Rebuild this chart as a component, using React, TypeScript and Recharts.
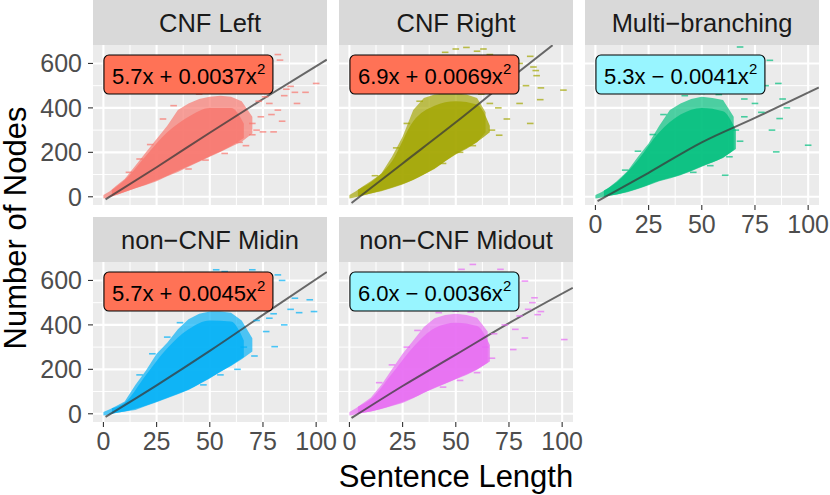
import React from 'react'
import { ComposedChart, Area, Line, Scatter, XAxis, YAxis, CartesianGrid } from 'recharts'

const FONT = '"Liberation Sans", Arial, Helvetica, sans-serif'

const X_TICKS = [0, 25, 50, 75, 100]
const Y_TICKS = [0, 200, 400, 600]
const X_MINOR = [12.5, 37.5, 62.5, 87.5]
const Y_MINOR = [100, 300, 500]

const TITLES = ['CNF Left', 'CNF Right', 'Multi\u2212branching', 'non\u2212CNF Midin', 'non\u2212CNF Midout']
const COLORS = ['#F8766D', '#A3A500', '#00BF7D', '#00B0F6', '#E76BF3']
const LABELS = ['5.7x + 0.0037x', '6.9x + 0.0069x', '5.3x \u2212 0.0041x', '5.7x + 0.0045x', '6.0x \u2212 0.0036x']
const LABEL_FILLS = ['#FF7256', '#FF7256', '#98F5FF', '#FF7256', '#98F5FF']

// whole cloud of each panel: sentence length, lowest and highest node count
const leftX = [0, 3, 6, 10, 15, 20, 25, 30, 35, 40, 45, 50, 55, 60, 65, 70]
const leftLo = [-8, -2, 8, 22, 38, 53, 70, 92, 112, 135, 158, 180, 202, 225, 248, 285]
const leftHi = [8, 25, 50, 80, 140, 200, 260, 320, 390, 420, 440, 450, 455, 450, 430, 360]

const rightX = [0, 3, 6, 10, 15, 20, 25, 30, 35, 40, 45, 50, 55, 60, 64]
const rightLo = [-8, -2, 5, 15, 25, 40, 55, 75, 100, 125, 160, 190, 215, 245, 290]
const rightHi = [8, 25, 45, 70, 105, 180, 270, 390, 445, 460, 465, 465, 460, 445, 380]

const multiX = [0, 3, 6, 10, 15, 20, 25, 30, 35, 40, 45, 50, 55, 60, 65]
const multiLo = [-8, -3, 3, 10, 20, 35, 52, 70, 82, 97, 115, 135, 155, 175, 210]
const multiHi = [8, 22, 40, 70, 115, 180, 240, 320, 390, 420, 440, 450, 445, 435, 360]

const midinX = [0, 3, 6, 10, 15, 20, 25, 30, 35, 40, 45, 50, 55, 60, 65, 70]
const midinLo = [-8, -3, 3, 10, 17, 35, 52, 70, 88, 107, 133, 159, 190, 215, 245, 280]
const midinHi = [8, 20, 35, 55, 130, 195, 270, 320, 380, 425, 450, 460, 460, 455, 420, 340]

const midoutX = [0, 3, 6, 10, 15, 20, 25, 30, 35, 40, 45, 50, 55, 60, 65]
const midoutLo = [-8, -3, 3, 10, 22, 35, 48, 70, 95, 115, 135, 155, 175, 198, 230]
const midoutHi = [8, 25, 45, 72, 130, 200, 270, 330, 390, 430, 445, 450, 445, 432, 370]

// densest core of each cloud
const coreX = [4, 10, 20, 30, 40, 50, 60, 66]
const leftCoreLo = [2, 22, 55, 95, 138, 182, 228, 265]
const leftCoreHi = [30, 75, 185, 290, 360, 400, 400, 330]
const rightCoreLo = [2, 15, 42, 77, 127, 192, 247, 290]
const rightCoreHi = [32, 65, 160, 340, 410, 430, 415, 320]
const multiCoreLo = [1, 10, 37, 72, 99, 137, 177, 215]
const multiCoreHi = [28, 65, 165, 290, 370, 400, 385, 300]
const midinCoreLo = [1, 10, 37, 72, 109, 161, 217, 255]
const midinCoreHi = [25, 50, 175, 295, 380, 420, 415, 330]
const midoutCoreLo = [1, 10, 37, 72, 117, 157, 200, 235]
const midoutCoreHi = [32, 65, 180, 300, 385, 410, 395, 310]

// scattered sentences outside the dense part
const leftOut = [[82, 640], [83, 615], [100, 510], [88, 497], [86, 484], [76, 450], [72, 466], [82, 390], [80, 292],
  [70, 279], [75, 292], [64, 245], [68, 470], [73, 430], [78, 420], [85, 455], [90, 470], [77, 480], [91, 420],
  [79, 370], [84, 340], [74, 360], [70, 330], [95, 470], [66, 480], [45, 462], [52, 470], [58, 475], [62, 468],
  [33, 410], [28, 350], [22, 235], [72, 300], [67, 230], [57, 195], [48, 165], [40, 125], [17, 170], [12, 110]]
const rightOut = [[86.5, 584], [100.6, 480], [89.7, 437], [85, 330], [70.4, 277], [85, 632], [87.6, 568], [50, 665],
  [55, 672], [60, 655], [45, 650], [66, 640], [75, 615], [80, 600], [72, 560], [78, 530], [68, 520], [83, 500],
  [75, 470], [90, 490], [80, 420], [70, 400], [74, 350], [63, 665], [88, 545], [40, 475], [48, 480], [56, 478],
  [62, 462], [33, 430], [27, 330], [22, 220], [67, 300], [66, 420], [58, 230], [52, 200], [44, 150], [12, 95]]
const multiOut = [[68, 674], [82, 614], [86, 510], [80, 500], [72, 470], [86.6, 352], [100, 232], [85, 202], [61, 97],
  [70, 440], [75, 420], [78, 380], [65, 480], [60, 500], [90, 400], [83, 300], [70, 360], [55, 470], [88, 440],
  [76, 520], [66, 300], [42, 455], [50, 465], [58, 460], [32, 370], [27, 280], [20, 205], [68, 250], [63, 180],
  [54, 140], [46, 110], [14, 120]]
const midinOut = [[53, 648], [70, 648], [82, 625], [84, 600], [97, 513], [76.5, 370], [80.5, 302], [99, 460], [74, 470],
  [80, 450], [88, 470], [66, 500], [60, 520], [72, 420], [78, 430], [85, 400], [90, 520], [66, 300], [57, 640],
  [92, 455], [75, 500], [44, 470], [52, 478], [59, 472], [36, 410], [30, 345], [23, 270], [17, 175], [71, 260],
  [63, 200], [55, 175], [47, 130]]
const midoutOut = [[58, 672], [52.7, 650], [71, 650], [82.5, 597], [87, 522], [88.5, 446], [101, 334], [77, 289],
  [82.5, 341], [84, 470], [80, 440], [75, 500], [70, 470], [66, 520], [62, 540], [90, 460], [73, 400], [68, 360],
  [78, 380], [64, 300], [86, 500], [42, 455], [50, 462], [57, 458], [32, 375], [27, 300], [20, 220], [14, 140],
  [67, 250], [60, 185], [52, 150], [44, 120]]

// fitted curves
const leftFit = [[1, -12], [25, 133], [50, 288], [75, 440], [105, 617]]
const rightFit = [[1, -28], [25, 150], [50, 335], [75, 528], [95.5, 682]]
const multiFit = [[1, -20], [25, 108], [50, 245], [75, 355], [105, 492]]
const midinFit = [[1, -14], [25, 128], [50, 283], [75, 445], [105, 638]]
const midoutFit = [[1, -19], [25, 125], [50, 266], [75, 408], [105, 567]]

const LABEL_X = 0
const LABEL_Y = 550

const PANELS = [
  { cx: leftX, lo: leftLo, hi: leftHi, clo: leftCoreLo, chi: leftCoreHi, out: leftOut, fit: leftFit, left: 93, top: 45, showX: false, showY: true },
  { cx: rightX, lo: rightLo, hi: rightHi, clo: rightCoreLo, chi: rightCoreHi, out: rightOut, fit: rightFit, left: 339, top: 45, showX: false, showY: false },
  { cx: multiX, lo: multiLo, hi: multiHi, clo: multiCoreLo, chi: multiCoreHi, out: multiOut, fit: multiFit, left: 585, top: 45, showX: true, showY: false },
  { cx: midinX, lo: midinLo, hi: midinHi, clo: midinCoreLo, chi: midinCoreHi, out: midinOut, fit: midinFit, left: 93, top: 262, showX: true, showY: true },
  { cx: midoutX, lo: midoutLo, hi: midoutHi, clo: midoutCoreLo, chi: midoutCoreHi, out: midoutOut, fit: midoutFit, left: 339, top: 262, showX: true, showY: false }
]

const PW = 234
const PH = 160
const STRIP = 45
const PAD = 12

function Panel({ p, i }: any) {
  const yW = p.showY ? 60 : 0
  const xH = p.showX ? 40 : 0
  const color = COLORS[i]
  const band = p.cx.map((x: number, k: number) => ({ x, band: [p.lo[k], p.hi[k]] }))
  const core = coreX.map((x: number, k: number) => ({ x, band: [p.clo[k], p.chi[k]] }))
  const pts = p.out.map(([x, y]: number[]) => ({ x, y }))
  const fit = p.fit.map(([x, y]: number[]) => ({ x, y }))

  const dash = (props: any) => (
    <rect x={props.cx - 3.3} y={props.cy - 0.8} width={6.6} height={1.6} fill={color} fillOpacity={0.7} />
  )
  const label = (props: any) => (
    <g>
      <rect x={props.cx + 0.5} y={props.cy - 19.5} width={169} height={39} rx={5} ry={5}
        fill={LABEL_FILLS[i]} stroke="#000" strokeWidth={1.1} />
      <text x={props.cx + 8.5} y={props.cy + 9.5} fontSize={22} fontFamily={FONT} fill="#000">
        {LABELS[i]}
        <tspan dy={-10} fontSize={15}>2</tspan>
      </text>
    </g>
  )

  const tick = { fill: '#4D4D4D', fontSize: 25, fontFamily: FONT }

  return (
    <div style={{ position: 'absolute', left: p.left - yW, top: p.top - PAD }}>
      <ComposedChart width={PW + yW + PAD} height={PH + xH + 2 * PAD}
        margin={{ top: PAD, right: PAD, bottom: PAD, left: 0 }}>
        <CartesianGrid horizontalValues={Y_MINOR} verticalValues={X_MINOR} stroke="#FFFFFF" strokeWidth={1} />
        <CartesianGrid horizontalValues={Y_TICKS} verticalValues={X_TICKS} stroke="#FFFFFF" strokeWidth={2.1} />
        <XAxis dataKey="x" type="number" domain={[-4.9, 105.1]} ticks={X_TICKS} allowDataOverflow
          hide={!p.showX} height={xH} tick={tick} tickSize={5} tickMargin={5} axisLine={false}
          tickLine={{ stroke: '#333333', strokeWidth: 1.1 }} interval={0} />
        <YAxis type="number" domain={[-37, 683]} ticks={Y_TICKS} allowDataOverflow
          hide={!p.showY} width={yW} tick={tick} tickSize={5} tickMargin={6} axisLine={false}
          tickLine={{ stroke: '#333333', strokeWidth: 1.1 }} interval={0} />
        <Area data={band} dataKey="band" type="linear" fill={color} fillOpacity={0.68} stroke="none"
          isAnimationActive={false} />
        <Area data={core} dataKey="band" type="monotone" fill={color} fillOpacity={0.8} stroke="none"
          isAnimationActive={false} />
        <Scatter data={pts} dataKey="y" shape={dash} isAnimationActive={false} />
        <Line data={fit} dataKey="y" type="monotone" stroke="#3A3A3A" strokeOpacity={0.75} strokeWidth={2}
          dot={false} activeDot={false} isAnimationActive={false} />
        <Scatter data={[{ x: LABEL_X, y: LABEL_Y }]} dataKey="y" shape={label} isAnimationActive={false} />
      </ComposedChart>
    </div>
  )
}

export default function App() {
  return (
    <div style={{ position: 'absolute', left: 0, top: 0, width: 830, height: 495, background: '#FFFFFF', overflow: 'hidden' }}>
      <svg width={830} height={495} style={{ position: 'absolute', left: 0, top: 0 }}>
        {PANELS.map((p, i) => (
          <g key={i}>
            <rect x={p.left} y={p.top} width={PW} height={PH} fill="#EBEBEB" />
            <rect x={p.left} y={p.top - STRIP} width={PW} height={STRIP} fill="#D9D9D9" />
            <text x={p.left + PW / 2} y={p.top - STRIP + 32} textAnchor="middle" fontSize={25.5}
              fontFamily={FONT} fill="#1A1A1A">{TITLES[i]}</text>
          </g>
        ))}
        <text x={456} y={487} textAnchor="middle" fontSize={31} fontFamily={FONT} fill="#000">Sentence Length</text>
        <text x={26} y={228} textAnchor="middle" fontSize={31} fontFamily={FONT} fill="#000"
          transform="rotate(-90, 26, 228)">Number of Nodes</text>
      </svg>
      {PANELS.map((p, i) => <Panel key={i} p={p} i={i} />)}
    </div>
  )
}
